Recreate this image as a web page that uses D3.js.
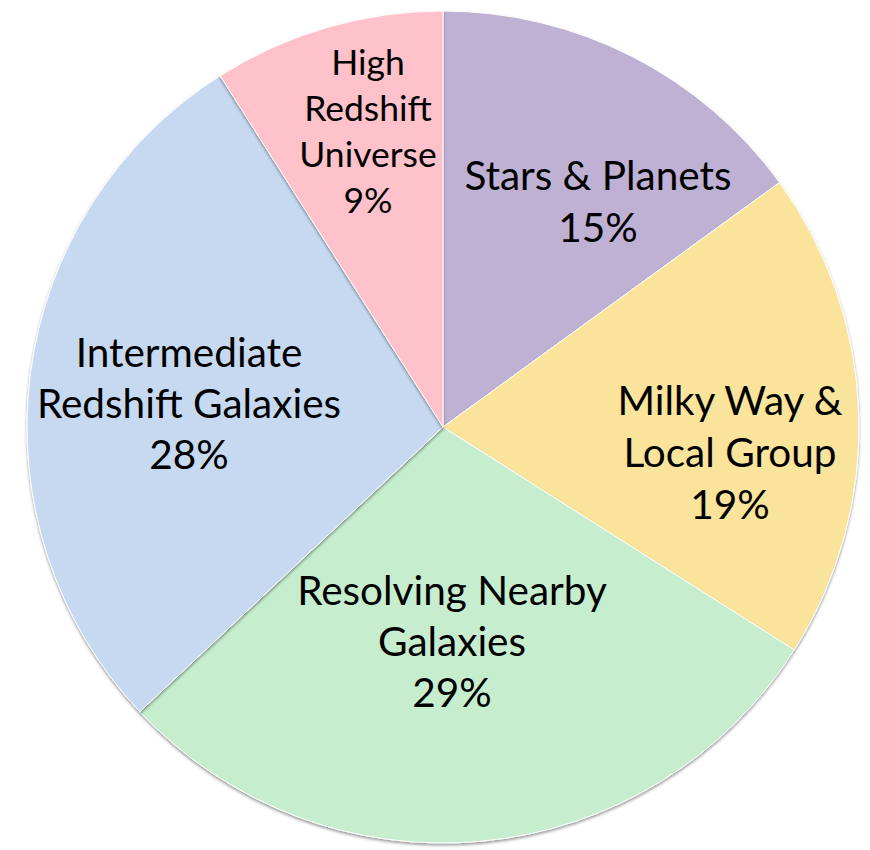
<!DOCTYPE html>
<html>
<head>
<meta charset="utf-8">
<script src="https://cdn.jsdelivr.net/npm/d3@7"></script>
<style>
  html, body { margin: 0; padding: 0; background: #fff; }
  svg { display: block; }
  text { font-family: Lato, "Noto Sans", sans-serif; fill: #000; }
</style>
</head>
<body>
<svg id="chart" width="870" height="850"></svg>
<script>
// Share of observing programme by science theme (percent)
const categories = [
  "Stars & Planets",
  "Milky Way & Local Group",
  "Resolving Nearby Galaxies",
  "Intermediate Redshift Galaxies",
  "High Redshift Universe"
];
const values = [15, 19, 29, 28, 9];
const labelLines = [
  ["Stars & Planets"],
  ["Milky Way &", "Local Group"],
  ["Resolving Nearby", "Galaxies"],
  ["Intermediate", "Redshift Galaxies"],
  ["High", "Redshift", "Universe"]
];
const colors = ["#BFB1D3", "#FAE49B", "#C7EDCF", "#C6D9F0", "#FFC2CA"];

// Layout: pie geometry and label anchors (centre x, first baseline, line height, font size)
const cx = 443, cy = 427, radius = 416;
const labelLayout = [
  { x: 598, y: 190, lh: 52, fs: 40.5 },
  { x: 730, y: 415, lh: 52, fs: 40.5 },
  { x: 452, y: 605, lh: 51, fs: 40.5 },
  { x: 189, y: 367, lh: 51, fs: 40.5 },
  { x: 368, y: 75,  lh: 46, fs: 35.5 }
];

const svg = d3.select("#chart");
const defs = svg.append("defs");
const shadow = defs.append("filter").attr("id", "sliceShadow")
  .attr("x", "-10%").attr("y", "-10%").attr("width", "120%").attr("height", "120%");
shadow.append("feDropShadow")
  .attr("dx", 0).attr("dy", 2).attr("stdDeviation", 1.8)
  .attr("flood-color", "#000").attr("flood-opacity", 0.4);

const pie = d3.pie().value(d => d).sort(null);
const arc = d3.arc().innerRadius(0).outerRadius(radius);
const arcs = pie(values);

const g = svg.append("g").attr("transform", `translate(${cx},${cy})`);
g.selectAll("path.slice")
  .data(arcs)
  .join("path")
  .attr("class", "slice")
  .attr("d", arc)
  .attr("fill", (d, i) => colors[i])
  .attr("stroke", "#ffffff")
  .attr("stroke-width", 1)
  .attr("filter", "url(#sliceShadow)");

// Category labels with percentage on the last line
const labels = svg.append("g");
arcs.forEach((a, i) => {
  const L = labelLayout[i];
  const lines = labelLines[i].concat([values[i] + "%"]);
  const t = labels.append("text")
    .attr("text-anchor", "middle")
    .attr("font-size", L.fs)
    .attr("x", L.x).attr("y", L.y);
  lines.forEach((s, k) => {
    t.append("tspan").attr("x", L.x).attr("y", L.y + k * L.lh).text(s);
  });
});
</script>
</body>
</html>
